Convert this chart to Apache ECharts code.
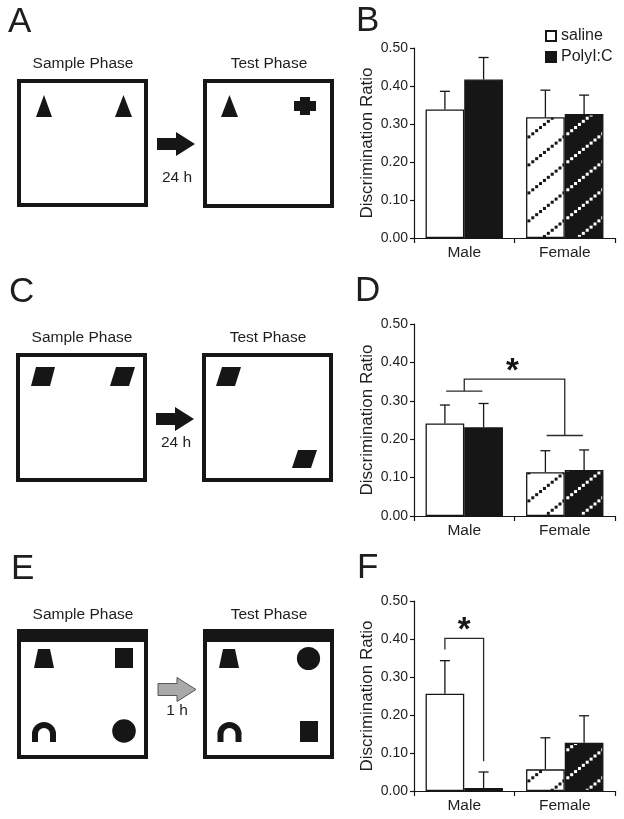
<!DOCTYPE html>
<html>
<head>
<meta charset="utf-8">
<script src="https://cdn.jsdelivr.net/npm/echarts@6/dist/echarts.min.js"></script>
<style>
html,body{margin:0;padding:0;background:#fff;}
#chart{width:624px;height:819px;}
</style>
</head>
<body>
<div id="chart"></div>
<script>
// ---------------- DATA ----------------
const categories = ['Male', 'Female'];
const seriesNames = ['saline', 'PolyI:C'];
const yTickValues = [0, 0.1, 0.2, 0.3, 0.4, 0.5];

// Panel B
const salineB = [0.338, 0.318];
const polyB = [0.417, 0.326];
const salineErrB = [0.048, 0.071];
const polyErrB = [0.058, 0.050];

// Panel D
const salineD = [0.241, 0.114];
const polyD = [0.231, 0.120];
const salineErrD = [0.048, 0.056];
const polyErrD = [0.062, 0.052];

// Panel F
const salineF = [0.256, 0.057];
const polyF = [0.008, 0.127];
const salineErrF = [0.087, 0.083];
const polyErrF = [0.042, 0.071];

// Significance brackets: [categoryIndex, offset within band, value]
const bracketD = [
  [[0, -0.18, 0.325], [0, 0.18, 0.325]],
  [[0, 0, 0.325], [0, 0, 0.3565], [1, 0, 0.3565], [1, 0, 0.2096]],
  [[1, -0.18, 0.2096], [1, 0.18, 0.2096]]
];
const starD = [0, 0.48, 0.391];
const bracketF = [
  [[0, -0.1925, 0.3726], [0, -0.1925, 0.4016], [0, 0.1925, 0.4016], [0, 0.1925, 0.078]]
];
const starF = [0, 0, 0.437];

// ---------------- STYLE ----------------
const FONT = "'Liberation Sans', Arial, sans-serif";
const INK = '#161616';
const TXT = '#1e1e1e';
const BAR_OFFSET = 0.1925;

function makeHatch(bg, fg) {
  const W = 35, H = 28;
  const c = document.createElement('canvas');
  c.width = W; c.height = H;
  const ctx = c.getContext('2d');
  ctx.fillStyle = bg; ctx.fillRect(0, 0, W, H);
  ctx.fillStyle = fg;
  const n = 9, s = 3;
  for (let i = 0; i < n; i++) {
    const t = i / n;
    const x = t * W, y = H - t * H;
    for (const dx of [-W, 0, W]) for (const dy of [-H, 0, H]) {
      ctx.fillRect(x + dx - s / 2, y + dy - s / 2, s, s);
    }
  }
  return c;
}
const hatchWhite = { image: makeHatch('#ffffff', INK), repeat: 'repeat' };
const hatchBlack = { image: makeHatch(INK, '#ffffff'), repeat: 'repeat' };

const grids = [
  { left: 414, width: 201, top: 48, height: 190 },
  { left: 414, width: 201, top: 324, height: 192 },
  { left: 414, width: 201, top: 601, height: 190 }
];

function xAxisFor(i) {
  return {
    type: 'category', gridIndex: i, data: categories,
    boundaryGap: true,
    axisLine: { lineStyle: { color: INK, width: 1.2 } },
    axisTick: { show: true, interval: 0, length: 5, lineStyle: { color: INK, width: 1.2 } },
    axisLabel: { color: TXT, fontSize: 15.5, margin: 7, fontFamily: FONT }
  };
}
function yAxisFor(i) {
  return {
    type: 'value', gridIndex: i, min: 0, max: 0.5, interval: 0.1,
    name: 'Discrimination Ratio', nameLocation: 'middle', nameGap: 38,
    nameTextStyle: { color: TXT, fontSize: 17, fontFamily: FONT },
    axisLine: { show: true, lineStyle: { color: INK, width: 1.2 } },
    axisTick: { show: true, length: 4, lineStyle: { color: INK, width: 1.2 } },
    splitLine: { show: false },
    axisLabel: { color: TXT, fontSize: 14, margin: 6, fontFamily: FONT,
      formatter: v => v.toFixed(2) }
  };
}

function barSeries(i, name, vals, maleColor, femaleColor) {
  return {
    name: name, type: 'bar', xAxisIndex: i, yAxisIndex: i,
    barGap: '0%', barCategoryGap: '23%',
    itemStyle: { color: maleColor, borderColor: INK, borderWidth: 1.3 },
    data: vals.map((v, k) => k === 0 ? v : { value: v, itemStyle: { color: femaleColor } }),
    z: 2
  };
}

function renderErr(params, api) {
  const cat = api.value(0), v = api.value(1), e = api.value(2), g = api.value(3);
  const band = api.size([1, 0])[0];
  const base = api.coord([cat, v]);
  const top = api.coord([cat, v + e]);
  const x = base[0] + (g === 0 ? -1 : 1) * band * BAR_OFFSET;
  const st = { stroke: INK, lineWidth: 1.3 };
  return { type: 'group', children: [
    { type: 'line', shape: { x1: x, y1: base[1], x2: x, y2: top[1] }, style: st },
    { type: 'line', shape: { x1: x - 5, y1: top[1], x2: x + 5, y2: top[1] }, style: st }
  ]};
}
function errSeries(i, sal, salE, pol, polE) {
  const data = [];
  for (let k = 0; k < categories.length; k++) {
    data.push([k, sal[k], salE[k], 0]);
    data.push([k, pol[k], polE[k], 1]);
  }
  return { type: 'custom', xAxisIndex: i, yAxisIndex: i, renderItem: renderErr, data: data, z: 5, silent: true };
}

function sigSeries(i, brackets, star) {
  return {
    type: 'custom', xAxisIndex: i, yAxisIndex: i, data: [0], z: 6, silent: true,
    renderItem: function (params, api) {
      const band = api.size([1, 0])[0];
      const pt = p => { const c = api.coord([p[0], p[2]]); return [c[0] + p[1] * band, c[1]]; };
      const children = brackets.map(b => ({
        type: 'polyline', shape: { points: b.map(pt) },
        style: { stroke: '#2a2a2a', lineWidth: 1.3, fill: null }
      }));
      const sp = pt(star);
      children.push({ type: 'text', x: sp[0], y: sp[1] + 6,
        style: { text: '*', fontSize: 33, fontWeight: 'bold', fontFamily: FONT, fill: INK,
          align: 'center', verticalAlign: 'middle' } });
      return { type: 'group', children: children };
    }
  };
}

// ---------------- SCHEMATIC GRAPHICS ----------------
const G = [];
function txt(x, y, s, size, align) {
  G.push({ type: 'text', x: x, y: y, style: { text: s, fontSize: size, fontFamily: FONT, fill: TXT,
    align: align || 'center', verticalAlign: 'middle' } });
}
function box(x0, y0, x1, y1) {
  G.push({ type: 'rect', shape: { x: x0 + 2, y: y0 + 2, width: x1 - x0 - 4, height: y1 - y0 - 4 },
    style: { fill: '#fff', stroke: INK, lineWidth: 4 } });
}
function poly(points, fill, stroke) {
  G.push({ type: 'polygon', shape: { points: points }, style: { fill: fill || INK, stroke: stroke || null, lineWidth: stroke ? 1 : 0 } });
}
function arrow(x0, cy, fill, stroke) {
  poly([[x0, cy - 6], [x0 + 19, cy - 6], [x0 + 19, cy - 12], [x0 + 38, cy], [x0 + 19, cy + 12], [x0 + 19, cy + 6], [x0, cy + 6]], fill, stroke);
}
function tri(x0, x1, yTop, yBot) { poly([[x0, yBot], [(x0 + x1) / 2, yTop], [x1, yBot]]); }
function para(xt, yt, yb, shift) { poly([[xt, yt], [xt + 19, yt], [xt + 19 - shift, yb], [xt - shift, yb]]); }
function arch(cx, yTop, yBot) {
  const r = 9, cy = yTop + 3 + r;
  G.push({ type: 'arc', shape: { cx: cx, cy: cy, r: r, startAngle: Math.PI, endAngle: 2 * Math.PI, clockwise: true },
    style: { stroke: INK, lineWidth: 6, fill: null } });
  G.push({ type: 'line', shape: { x1: cx - r, y1: cy - 0.5, x2: cx - r, y2: yBot }, style: { stroke: INK, lineWidth: 6 } });
  G.push({ type: 'line', shape: { x1: cx + r, y1: cy - 0.5, x2: cx + r, y2: yBot }, style: { stroke: INK, lineWidth: 6 } });
}

// Panel letters
txt(8, 22, 'A', 35, 'left');
txt(356, 21, 'B', 35, 'left');
txt(9, 292, 'C', 35, 'left');
txt(355, 291, 'D', 35, 'left');
txt(11, 569, 'E', 35, 'left');
txt(357, 568, 'F', 35, 'left');

// A
txt(83, 64, 'Sample Phase', 15.5);
txt(269, 64, 'Test Phase', 15.5);
box(17, 79, 148, 207);
box(203, 79, 334, 208);
tri(36, 52, 95, 117);
tri(115, 132, 95, 117);
tri(221, 238, 95, 117);
poly([[300, 97], [310, 97], [310, 101], [316, 101], [316, 111], [310, 111], [310, 115], [300, 115], [300, 111], [294, 111], [294, 101], [300, 101]]);
arrow(157, 144, INK);
txt(177, 178, '24 h', 15.5);

// C
txt(82, 338, 'Sample Phase', 15.5);
txt(268, 338, 'Test Phase', 15.5);
box(16, 353, 147, 482);
box(202, 353, 333, 482);
para(36, 367, 386, 5);
para(116, 367, 386, 6);
para(222, 367, 386, 6);
para(298, 450, 468, 6);
arrow(156, 419, INK);
txt(176, 443, '24 h', 15.5);

// E
txt(83, 615, 'Sample Phase', 15.5);
txt(269, 615, 'Test Phase', 15.5);
box(17, 629, 148, 759);
box(203, 629, 334, 759);
G.push({ type: 'rect', shape: { x: 17, y: 629, width: 131, height: 13 }, style: { fill: INK } });
G.push({ type: 'rect', shape: { x: 203, y: 629, width: 131, height: 13 }, style: { fill: INK } });
poly([[38, 649], [50, 649], [54, 668], [34, 668]]);
G.push({ type: 'rect', shape: { x: 115, y: 648, width: 18, height: 20 }, style: { fill: INK } });
arch(44, 722, 742);
G.push({ type: 'circle', shape: { cx: 124, cy: 731, r: 11.8 }, style: { fill: INK } });
poly([[223, 649], [235, 649], [239, 668], [219, 668]]);
G.push({ type: 'circle', shape: { cx: 308.5, cy: 658.5, r: 11.6 }, style: { fill: INK } });
arch(229.5, 722, 742);
G.push({ type: 'rect', shape: { x: 300, y: 721, width: 18, height: 21 }, style: { fill: INK } });
arrow(158, 689.5, '#a9a9a9', '#555');
txt(177, 711, '1 h', 15.5);

// ---------------- CHART ----------------
const chart = echarts.init(document.getElementById('chart'), null, { renderer: 'canvas' });
chart.setOption({
  animation: false,
  backgroundColor: '#fff',
  textStyle: { fontFamily: FONT },
  legend: {
    data: seriesNames, left: 540, top: 23, orient: 'vertical',
    itemWidth: 10, itemHeight: 10, itemGap: 5, icon: 'rect',
    textStyle: { fontSize: 16, color: TXT, fontFamily: FONT },
    selectedMode: false
  },
  grid: grids,
  xAxis: [xAxisFor(0), xAxisFor(1), xAxisFor(2)],
  yAxis: [yAxisFor(0), yAxisFor(1), yAxisFor(2)],
  series: [
    barSeries(0, seriesNames[0], salineB, '#ffffff', hatchWhite),
    barSeries(0, seriesNames[1], polyB, INK, hatchBlack),
    errSeries(0, salineB, salineErrB, polyB, polyErrB),
    barSeries(1, seriesNames[0], salineD, '#ffffff', hatchWhite),
    barSeries(1, seriesNames[1], polyD, INK, hatchBlack),
    errSeries(1, salineD, salineErrD, polyD, polyErrD),
    sigSeries(1, bracketD, starD),
    barSeries(2, seriesNames[0], salineF, '#ffffff', hatchWhite),
    barSeries(2, seriesNames[1], polyF, INK, hatchBlack),
    errSeries(2, salineF, salineErrF, polyF, polyErrF),
    sigSeries(2, bracketF, starF)
  ],
  graphic: { elements: G }
});
</script>
</body>
</html>
